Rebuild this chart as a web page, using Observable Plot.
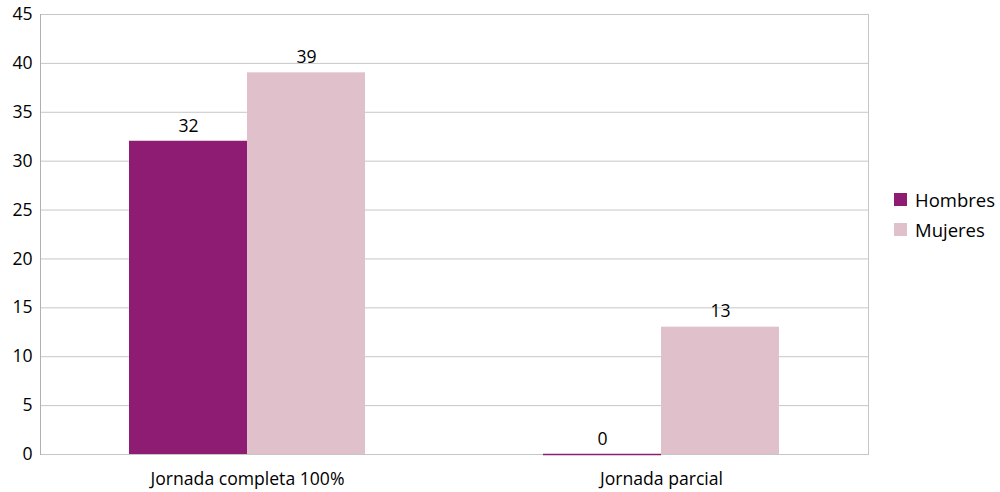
<!DOCTYPE html>
<html>
<head>
<meta charset="utf-8">
<script src="https://cdn.jsdelivr.net/npm/d3@7"></script>
<script src="https://cdn.jsdelivr.net/npm/@observablehq/plot@0.6"></script>
<style>
  html, body { margin: 0; padding: 0; background: #fff; }
  #wrap { position: relative; width: 1000px; height: 492px; font-family: "Open Sans", sans-serif; }
  #legend { position: absolute; left: 894px; top: 184px; font-size: 18.5px; color: #000; }
  .item { display: flex; align-items: center; height: 30px; }
  .sw { width: 13px; height: 13px; margin-right: 8px; }
</style>
</head>
<body>
<div id="wrap"></div>
<script>
const categories = ["Jornada completa 100%", "Jornada parcial"];
const series = ["Hombres", "Mujeres"];
const hombres = [32, 0];
const mujeres = [39, 13];
const colors = ["#8E1C72", "#E0C0CB"];
const yTicks = [0, 5, 10, 15, 20, 25, 30, 35, 40, 45];

const data = categories.flatMap((c, i) => [
  {cat: c, serie: series[0], value: hombres[i]},
  {cat: c, serie: series[1], value: mujeres[i]}
]);

const font = "Open Sans, sans-serif";
const fs = 17.6;

const chart = Plot.plot({
  width: 1000,
  height: 492,
  marginLeft: 40,
  marginRight: 132,
  marginTop: 14,
  marginBottom: 38,
  style: {fontFamily: font, fontSize: fs + "px", color: "#000", background: "#fff"},
  fx: {domain: categories, padding: 0, label: null},
  x: {domain: series, paddingInner: 0, paddingOuter: 0.754, axis: null},
  y: {domain: [0, 45], label: null},
  color: {domain: series, range: colors},
  marks: [
    Plot.gridY(yTicks, {stroke: "#c6c6c6", strokeOpacity: 1}),
    Plot.frame({anchor: "left", facetAnchor: "left", stroke: "#b0b0b0"}),
    Plot.frame({anchor: "right", facetAnchor: "right", stroke: "#c6c6c6"}),
    Plot.axisY(yTicks, {tickSize: 0, tickPadding: 8, label: null, fontSize: fs}),
    Plot.axisFx({anchor: "bottom", tickSize: 0, tickPadding: 18, label: null, fontSize: fs}),
    Plot.barY(data, {fx: "cat", x: "serie", y: "value", fill: "serie"}),
    Plot.tickY(data, {fx: "cat", x: "serie", y: "value", stroke: "serie", strokeWidth: 1.5}),
    Plot.text(data, {fx: "cat", x: "serie", y: "value", text: d => String(d.value), lineAnchor: "bottom", dy: -10, fontSize: fs, fill: "#000"})
  ]
});

const wrap = document.getElementById("wrap");
wrap.appendChild(chart);
const legend = document.createElement("div");
legend.id = "legend";
series.forEach((s, i) => {
  const it = document.createElement("div");
  it.className = "item";
  const sw = document.createElement("div");
  sw.className = "sw";
  sw.style.background = colors[i];
  const t = document.createElement("span");
  t.textContent = s;
  it.appendChild(sw);
  it.appendChild(t);
  legend.appendChild(it);
});
wrap.appendChild(legend);
</script>
</body>
</html>
